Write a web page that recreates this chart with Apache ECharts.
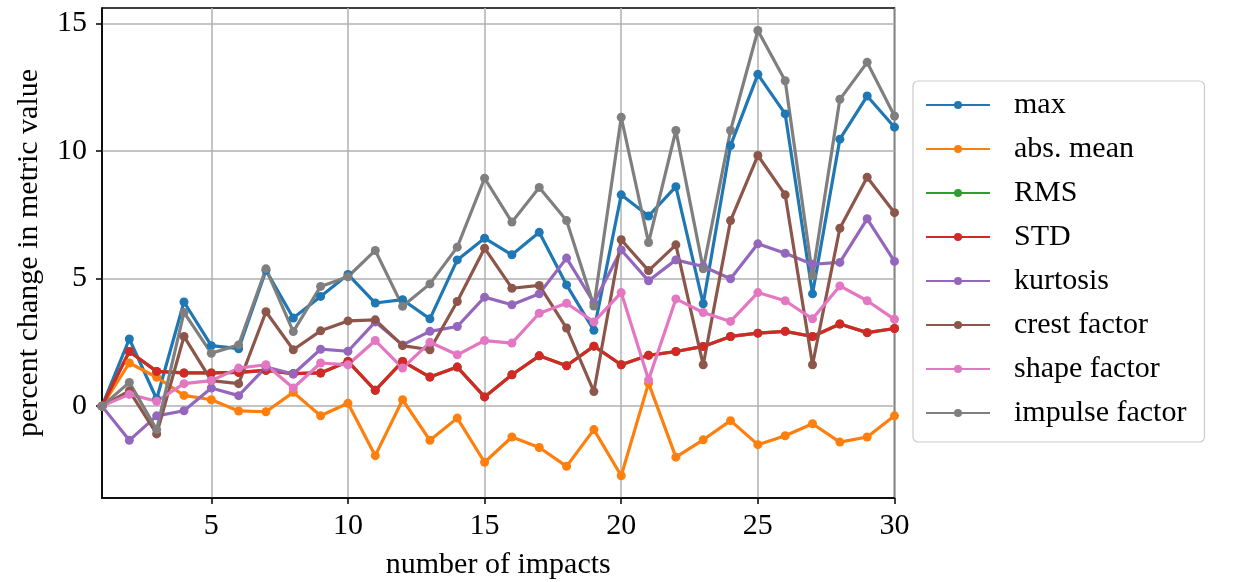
<!DOCTYPE html>
<html>
<head>
<meta charset="utf-8">
<script src="https://cdn.jsdelivr.net/npm/echarts@6/dist/echarts.min.js"></script>
<style>
html,body{margin:0;padding:0;background:#fff;}
#chart{width:1235px;height:582px;}
</style>
</head>
<body>
<div id="chart"></div>
<script>
const impacts = [1,2,3,4,5,6,7,8,9,10,11,12,13,14,15,16,17,18,19,20,21,22,23,24,25,26,27,28,29,30];
const xTicks = [5,10,15,20,25,30];
const yTicks = [0,5,10,15];

const maxVals      = [0,2.63,0.28,4.08,2.37,2.25,5.32,3.45,4.30,5.16,4.04,4.17,3.42,5.73,6.58,5.93,6.81,4.75,2.97,8.28,7.45,8.60,4.01,10.21,13.00,11.45,4.40,10.46,12.15,10.93];
const absMean      = [0,1.69,1.13,0.42,0.25,-0.19,-0.22,0.54,-0.38,0.11,-1.94,0.25,-1.34,-0.47,-2.20,-1.21,-1.62,-2.36,-0.92,-2.73,0.90,-2.00,-1.32,-0.57,-1.51,-1.16,-0.69,-1.41,-1.21,-0.38];
const rmsVals      = [0,2.14,1.36,1.30,1.30,1.32,1.40,1.27,1.30,1.75,0.62,1.75,1.14,1.53,0.36,1.23,1.97,1.58,2.35,1.62,1.99,2.14,2.34,2.73,2.86,2.93,2.73,3.22,2.88,3.04];
const stdVals      = [0,2.14,1.36,1.30,1.30,1.32,1.40,1.27,1.30,1.75,0.62,1.75,1.14,1.53,0.36,1.23,1.97,1.58,2.35,1.62,1.99,2.14,2.34,2.73,2.86,2.93,2.73,3.22,2.88,3.04];
const kurtosis     = [0,-1.34,-0.38,-0.18,0.71,0.41,1.53,1.26,2.23,2.15,3.30,2.40,2.93,3.12,4.27,3.97,4.40,5.80,4.05,6.12,4.91,5.73,5.47,4.99,6.36,5.99,5.56,5.63,7.34,5.67];
const crestFactor  = [0,0.60,-1.09,2.73,1.00,0.88,3.70,2.21,2.95,3.34,3.38,2.37,2.21,4.10,6.19,4.62,4.73,3.06,0.57,6.52,5.31,6.32,1.62,7.27,9.82,8.28,1.62,6.97,8.97,7.58];
const shapeFactor  = [0,0.46,0.19,0.88,1.00,1.49,1.62,0.71,1.69,1.62,2.57,1.49,2.50,2.01,2.57,2.47,3.64,4.03,3.30,4.45,1.03,4.20,3.67,3.32,4.45,4.13,3.42,4.71,4.13,3.40];
const impulseFactor= [0,0.93,-0.92,3.67,2.07,2.40,5.38,2.92,4.69,5.07,6.10,3.91,4.79,6.23,8.93,7.21,8.57,7.27,3.92,11.32,6.41,10.80,5.38,10.80,14.72,12.75,5.12,12.02,13.47,11.37];

const seriesNames = ['max','abs. mean','RMS','STD','kurtosis','crest factor','shape factor','impulse factor'];
const seriesData = [maxVals, absMean, rmsVals, stdVals, kurtosis, crestFactor, shapeFactor, impulseFactor];
const colors = ['#1f77b4','#ff7f0e','#2ca02c','#d62728','#9467bd','#8c564b','#e377c2','#7f7f7f'];

const FONT = 'Liberation Serif';
const FS = 30;

const chart = echarts.init(document.getElementById('chart'), null, {renderer:'canvas'});
const showX = (idx, val) => xTicks.indexOf(Number(val)) >= 0;

chart.setOption({
  animation: false,
  backgroundColor: '#fff',
  color: colors,
  textStyle: {fontFamily: FONT, color: '#000'},
  grid: {left: 102, top: 8, width: 792.5, height: 490, show: true, borderColor: '#000', borderWidth: 1.5, containLabel: false, outerBoundsMode: 'none'},
  legend: {
    orient: 'vertical', left: 913, top: 81,
    data: seriesNames,
    itemWidth: 64, itemHeight: 10, itemGap: 14,
    padding: [9, 18, 14, 12],
    borderColor: '#cccccc', borderWidth: 1.2, borderRadius: 5,
    backgroundColor: '#fff',
    textStyle: {fontFamily: FONT, fontSize: FS, color: '#000', lineHeight: 30, padding: [0,0,0,19]}
  },
  xAxis: {
    type: 'category', data: impacts.map(String), boundaryGap: false,
    name: 'number of impacts', nameLocation: 'middle', nameGap: 52,
    nameTextStyle: {fontFamily: FONT, fontSize: FS, color: '#000'},
    axisLine: {show: true, onZero: false, lineStyle: {color: '#000', width: 1.5}},
    axisTick: {show: true, inside: false, length: 6, interval: showX, lineStyle: {color: '#000', width: 1.5}},
    axisLabel: {interval: showX, margin: 13, fontFamily: FONT, fontSize: FS, color: '#000'},
    splitLine: {show: true, interval: showX, lineStyle: {color: '#b0b0b0', width: 1.5}}
  },
  yAxis: {
    type: 'value', min: -3.6, max: 15.6, splitNumber: 4,
    name: 'percent change in metric value', nameLocation: 'middle', nameGap: 58,
    nameTextStyle: {fontFamily: FONT, fontSize: FS, color: '#000'},
    axisLine: {show: true, onZero: false, lineStyle: {color: '#000', width: 1.5}},
    axisTick: {show: true, inside: false, length: 6, customValues: yTicks, lineStyle: {color: '#000', width: 1.5}},
    axisLabel: {customValues: yTicks, margin: 15, fontFamily: FONT, fontSize: FS, color: '#000'},
    splitLine: {show: true, lineStyle: {color: '#b0b0b0', width: 1.5}}
  },
  series: seriesNames.map((n, i) => ({
    name: n, type: 'line', data: seriesData[i],
    symbol: 'circle', symbolSize: 9, showSymbol: true,
    lineStyle: {width: 3.2, color: colors[i]},
    itemStyle: {color: colors[i], borderWidth: 0},
    emphasis: {disabled: true}
  }))
});
</script>
</body>
</html>
